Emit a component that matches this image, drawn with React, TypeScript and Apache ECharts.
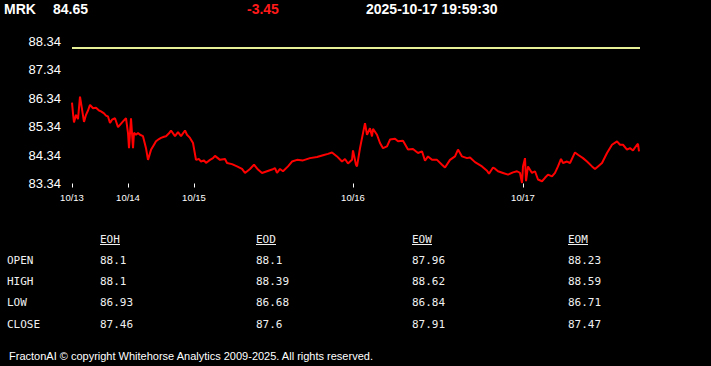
import React, { useEffect, useRef } from "react";
import * as echarts from "echarts";

// ---- Data ----
const symbol = "MRK";
const lastPrice = "84.65";
const change = "-3.45";
const timestamp = "2025-10-17 19:59:30";
const prevClose = 88.1;

// bar index (session time index) and price
const times = [
  0, 1, 2, 4, 6, 8, 10, 12, 14, 16, 18, 21, 24, 27, 29, 32, 34, 36, 38, 40,
  43, 46, 48, 51, 54, 56, 57, 59, 61, 62, 64, 66, 68, 71, 74, 76, 79, 82, 84, 87,
  89, 92, 94, 97, 99, 103, 106, 109, 113, 115, 118, 121, 124, 127, 129, 132, 134, 138, 141, 143,
  148, 153, 155, 160, 165, 170, 173, 178, 182, 186, 190, 195, 200, 203, 205, 208, 211, 216, 220, 225,
  231, 238, 245, 251, 256, 260, 265, 270, 273, 276, 280, 281, 284, 285, 288, 293, 295, 298, 300, 301,
  305, 308, 311, 315, 318, 323, 326, 331, 336, 341, 346, 350, 353, 356, 360, 365, 370, 373, 378, 383,
  386, 390, 395, 398, 403, 410, 415, 417, 421, 423, 426, 431, 436, 441, 445, 448, 450, 451, 453, 454,
  456, 460, 463, 466, 470, 473, 476, 480, 483, 486, 489, 491, 495, 498, 503, 506, 511, 515, 520, 523,
  526, 530, 535, 540, 545, 548, 551, 555, 558, 561, 565, 566, 567,
];
const prices = [
  86.18, 85.8, 85.48, 85.75, 85.6, 86.39, 85.95, 85.5, 85.75, 85.9, 86.1, 85.98, 86.0, 85.9, 85.87, 85.8, 85.72, 85.69, 85.46, 85.58,
  85.63, 85.32, 85.4, 85.52, 85.63, 85.11, 84.58, 85.63, 84.58, 85.12, 85.05, 85.11, 85.05, 85.0, 84.58, 84.17, 84.52, 84.7, 84.82, 84.9,
  84.94, 84.98, 85.0, 85.1, 85.2, 85.0, 85.14, 85.0, 85.2, 85.05, 84.94, 84.76, 84.17, 84.2, 84.11, 84.15, 84.06, 84.17, 84.23, 84.31,
  84.17, 84.2, 84.06, 84.02, 83.94, 83.85, 83.71, 83.85, 84.0, 83.83, 83.71, 83.77, 83.83, 83.88, 83.71, 83.85, 83.77, 83.94, 84.11, 84.17,
  84.15, 84.23, 84.27, 84.33, 84.38, 84.43, 84.29, 84.11, 84.2, 84.04, 84.17, 84.5, 84.0, 83.94, 84.58, 85.46, 85.05, 85.28, 84.99, 85.26,
  85.05, 84.76, 84.58, 84.64, 84.88, 84.91, 84.82, 84.84, 84.53, 84.55, 84.41, 84.47, 84.14, 84.29, 84.17, 84.17, 84.0, 83.9, 84.17, 84.29,
  84.53, 84.29, 84.23, 84.25, 84.09, 83.94, 83.79, 83.68, 83.9, 83.86, 83.77, 83.71, 83.65, 83.73, 83.77, 83.71, 83.36, 83.94, 84.23, 83.42,
  83.94, 83.71, 83.77, 83.48, 83.42, 83.54, 83.65, 83.59, 83.71, 83.94, 84.2, 84.06, 84.11, 84.06, 84.43, 84.35, 84.23, 84.11, 83.94, 83.85,
  83.94, 84.06, 84.41, 84.7, 84.82, 84.7, 84.7, 84.53, 84.58, 84.5, 84.7, 84.73, 84.47,
];
const timeMax = 568;

const dayTicks = [0, 56, 122, 281, 451];
const dayLabels = ["10/13", "10/14", "10/15", "10/16", "10/17"];
const yTicks = [83.34, 84.34, 85.34, 86.34, 87.34, 88.34];

const tableCols = ["EOH", "EOD", "EOW", "EOM"];
const tableRows = ["OPEN", "HIGH", "LOW", "CLOSE"];
const eohValues = ["88.1", "88.1", "86.93", "87.46"];
const eodValues = ["88.1", "88.39", "86.68", "87.6"];
const eowValues = ["87.96", "88.62", "86.84", "87.91"];
const eomValues = ["88.23", "88.59", "86.71", "87.47"];

const footer = "FractonAI \u00a9 copyright Whitehorse Analytics 2009-2025. All rights reserved.";

export default function App() {
  const ref = useRef<HTMLDivElement>(null);

  useEffect(() => {
    document.body.style.margin = "0";
    document.body.style.background = "#000";
    if (!ref.current) return;
    const chart = echarts.init(ref.current, undefined, { renderer: "svg" });

    const sans = '"Liberation Sans", Arial, sans-serif';
    const mono = '"DejaVu Sans Mono", monospace';

    const colX = [100, 256, 412, 568];
    const headerY = 239;
    const rowY = [260, 281, 302.5, 324];
    const colValues = [eohValues, eodValues, eowValues, eomValues];

    const graphics: any[] = [];
    const txt = (text: string, x: number, y: number, font: string, fill: string) => ({
      type: "text",
      style: { text, x, y, font, fill, textAlign: "left", textVerticalAlign: "middle", align: "left", verticalAlign: "middle" },
      silent: true,
    });

    graphics.push(txt(symbol, 4, 9, `bold 14px ${sans}`, "#ffffff"));
    graphics.push(txt(lastPrice, 53, 9, `bold 14px ${sans}`, "#ffffff"));
    graphics.push(txt(change, 247, 9, `bold 14px ${sans}`, "#ff1a1a"));
    graphics.push(txt(timestamp, 366, 9, `bold 14px ${sans}`, "#ffffff"));

    tableCols.forEach((c, i) => {
      graphics.push(txt(c, colX[i], headerY, `11px ${mono}`, "#f0f0f0"));
      graphics.push({
        type: "line",
        shape: { x1: colX[i], y1: 244.5, x2: colX[i] + 20, y2: 244.5 },
        style: { stroke: "#f0f0f0", lineWidth: 1 },
        silent: true,
      });
    });
    tableRows.forEach((r, j) => {
      graphics.push(txt(r, 7, rowY[j], `11px ${mono}`, "#f0f0f0"));
      colValues.forEach((vals, i) => {
        graphics.push(txt(vals[j], colX[i], rowY[j], `11px ${mono}`, "#f0f0f0"));
      });
    });

    graphics.push(txt(footer, 9, 356, `11px ${sans}`, "#ffffff"));

    const data = times.map((t, i) => [t, prices[i]]);

    chart.setOption({
      animation: false,
      backgroundColor: "#000000",
      grid: { left: 72, right: 71, top: 41, bottom: 182.5, containLabel: false },
      xAxis: {
        type: "value",
        min: 0,
        max: timeMax,
        axisLine: { show: false },
        splitLine: { show: false },
        axisTick: {
          show: true,
          customValues: dayTicks,
          length: 4,
          lineStyle: { color: "#ffffff", width: 1 },
        },
        axisLabel: {
          customValues: dayTicks,
          color: "#ffffff",
          fontSize: 9.5,
          fontFamily: sans,
          margin: 9,
          formatter: (v: number) => {
            const k = dayTicks.indexOf(Math.round(v));
            return k >= 0 ? dayLabels[k] : "";
          },
        },
      },
      yAxis: {
        type: "value",
        min: yTicks[0],
        max: yTicks[yTicks.length - 1],
        axisLine: { show: false },
        axisTick: { show: false },
        splitLine: { show: false },
        axisLabel: {
          customValues: yTicks,
          color: "#ffffff",
          fontSize: 13,
          fontFamily: sans,
          margin: 11,
          formatter: (v: number) => v.toFixed(2),
        },
      },
      series: [
        {
          type: "line",
          data,
          showSymbol: false,
          symbol: "none",
          lineStyle: { color: "#ff0000", width: 2 },
          markLine: {
            silent: true,
            symbol: "none",
            label: { show: false },
            lineStyle: { color: "#e6ee96", width: 2, type: "solid" },
            data: [{ yAxis: prevClose }],
          },
        },
      ],
      graphic: graphics,
    });

    return () => chart.dispose();
  }, []);

  return (
    <div
      ref={ref}
      style={{ position: "fixed", left: 0, top: 0, width: 711, height: 366, background: "#000" }}
    />
  );
}
